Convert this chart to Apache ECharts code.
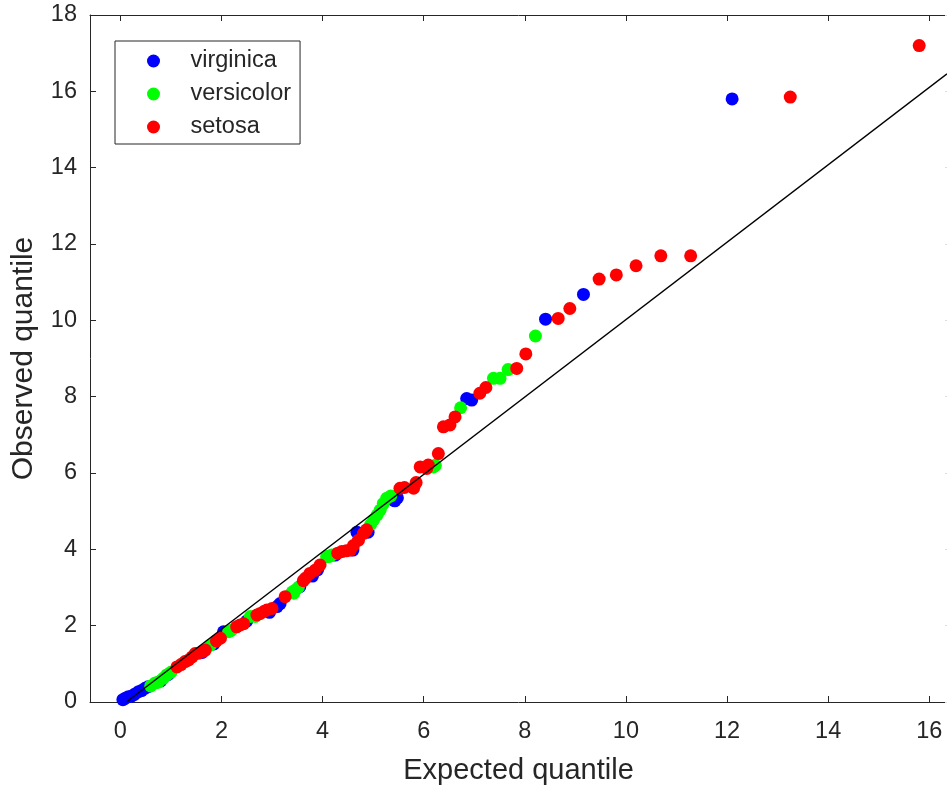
<!DOCTYPE html>
<html>
<head>
<meta charset="utf-8">
<script src="https://cdn.jsdelivr.net/npm/echarts@6/dist/echarts.min.js"></script>
<style>
html,body{margin:0;padding:0;background:#fff;}
#chart{width:947px;height:786px;}
</style>
</head>
<body>
<div id="chart"></div>
<script>
const seriesNames = ['virginica', 'versicolor', 'setosa'];
const seriesColors = ['#0000ff', '#00ff00', '#ff0000'];

const virginica = [
  [0.05,0.06],[0.1,0.1],[0.16,0.14],[0.22,0.15],[0.28,0.2],[0.36,0.27],[0.42,0.3],[0.49,0.36],
  [0.55,0.4],[0.8,0.55],[0.95,0.72],[1.62,1.3],[1.85,1.52],[2.04,1.84],[2.5,2.12],[2.95,2.35],
  [3.1,2.5],[3.16,2.58],[3.55,3.02],[3.8,3.3],[3.9,3.46],[4.25,3.85],[4.6,3.98],[4.68,4.45],
  [4.9,4.45],[5.4,5.29],[5.43,5.27],[5.48,5.35],[6.85,7.95],[6.95,7.91],[8.41,10.03],[9.16,10.68],
  [12.1,15.8]
];
const versicolor = [
  [0.6,0.42],[0.69,0.5],[0.75,0.52],[0.85,0.62],[0.92,0.71],[1.0,0.78],[1.78,1.49],[2.14,1.84],
  [2.2,1.88],[2.57,2.24],[2.67,2.24],[3.4,2.88],[3.43,2.85],[3.46,2.93],[3.52,3.0],[4.08,3.81],
  [4.12,3.81],[4.18,3.85],[4.95,4.65],[5.01,4.77],[5.08,4.9],[5.14,5.03],[5.2,5.2],[5.27,5.34],
  [5.35,5.4],[6.19,6.16],[6.23,6.2],[6.73,7.71],[7.38,8.48],[7.51,8.48],[7.67,8.71],[8.21,9.59]
];
const setosa = [
  [1.12,0.92],[1.2,0.98],[1.28,1.06],[1.35,1.1],[1.42,1.18],[1.48,1.27],[1.55,1.28],[1.62,1.32],
  [1.68,1.36],[1.9,1.6],[1.98,1.67],[2.3,1.97],[2.37,2.02],[2.44,2.05],[2.7,2.28],[2.77,2.32],
  [2.85,2.38],[2.9,2.41],[3.0,2.45],[3.26,2.76],[3.62,3.18],[3.66,3.24],[3.75,3.37],[3.85,3.45],
  [3.95,3.59],[4.3,3.9],[4.38,3.94],[4.47,3.96],[4.55,3.98],[4.61,4.1],[4.71,4.24],[4.81,4.42],
  [4.87,4.51],[5.53,5.6],[5.62,5.62],[5.8,5.6],[5.85,5.75],[5.93,6.16],[6.06,6.12],[6.09,6.21],
  [6.29,6.51],[6.39,7.21],[6.52,7.26],[6.62,7.47],[7.11,8.09],[7.23,8.24],[7.84,8.74],[8.02,9.12],
  [8.66,10.05],[8.89,10.31],[9.47,11.08],[9.81,11.19],[10.2,11.43],[10.69,11.69],[11.28,11.69],
  [13.25,15.85],[15.8,17.2]
];
const referenceLine = [[0.12,0.0],[16.35,16.46]];

const xTicks = [0,2,4,6,8,10,12,14,16];
const xLabel = 'Expected quantile';
const yLabel = 'Observed quantile';

const FONT = 'Liberation Sans, Arial, sans-serif';
const AX = '#262626';

const chart = echarts.init(document.getElementById('chart'), null, {renderer: 'canvas'});

const groups = [virginica, versicolor, setosa];

const xBase = {
  type: 'value', min: -0.6, max: 16.35,
  axisLine: {show: true, onZero: false, lineStyle: {color: AX, width: 1}},
  axisTick: {show: true, inside: true, length: 6, customValues: xTicks, lineStyle: {color: AX}},
  splitLine: {show: false}
};
const yBase = {
  type: 'value', min: 0, max: 18, interval: 2,
  axisLine: {show: true, onZero: false, lineStyle: {color: AX, width: 1}},
  axisTick: {show: true, inside: true, length: 6, lineStyle: {color: AX}},
  splitLine: {show: false}
};

chart.setOption({
  animation: false,
  backgroundColor: '#ffffff',
  grid: {left: 90, top: 15, right: 0, bottom: 84, containLabel: false, outerBoundsMode: 'none'},
  xAxis: [
    Object.assign({}, xBase, {
      position: 'bottom',
      name: xLabel, nameLocation: 'middle', nameGap: 54,
      nameTextStyle: {fontFamily: FONT, fontSize: 29, color: AX},
      axisLabel: {show: true, customValues: xTicks, margin: 18, fontFamily: FONT, fontSize: 23.5, color: AX}
    }),
    Object.assign({}, xBase, {position: 'top', axisLabel: {show: false}})
  ],
  yAxis: [
    Object.assign({}, yBase, {
      position: 'left',
      name: yLabel, nameLocation: 'middle', nameGap: 51,
      nameTextStyle: {fontFamily: FONT, fontSize: 30, color: AX},
      axisLabel: {show: true, margin: 13, fontFamily: FONT, fontSize: 23.5, color: AX}
    }),
    Object.assign({}, yBase, {position: 'right', axisLabel: {show: false},
      axisLine: {show: false, onZero: false},
      axisTick: {show: true, inside: true, length: 2, lineStyle: {color: '#dddddd'}}})
  ],
  legend: {
    data: seriesNames,
    orient: 'vertical',
    left: 115, top: 41,
    padding: [8, 9, 5, 32],
    itemWidth: 64, itemHeight: 13, itemGap: 9,
    icon: 'circle',
    textStyle: {fontFamily: FONT, fontSize: 23.5, color: AX},
    backgroundColor: '#ffffff',
    borderColor: AX, borderWidth: 1, borderRadius: 0
  },
  series: seriesNames.map((n, i) => ({
    name: n, type: 'scatter', xAxisIndex: 0, yAxisIndex: 0,
    data: groups[i], symbol: 'circle', symbolSize: 13,
    itemStyle: {color: seriesColors[i], opacity: 1},
    z: 2 + i
  })).concat([{
    name: 'reference', type: 'line', xAxisIndex: 0, yAxisIndex: 0,
    data: referenceLine, showSymbol: false, symbol: 'none',
    lineStyle: {color: '#000000', width: 1.4}, z: 10, silent: true
  }])
});
</script>
</body>
</html>
